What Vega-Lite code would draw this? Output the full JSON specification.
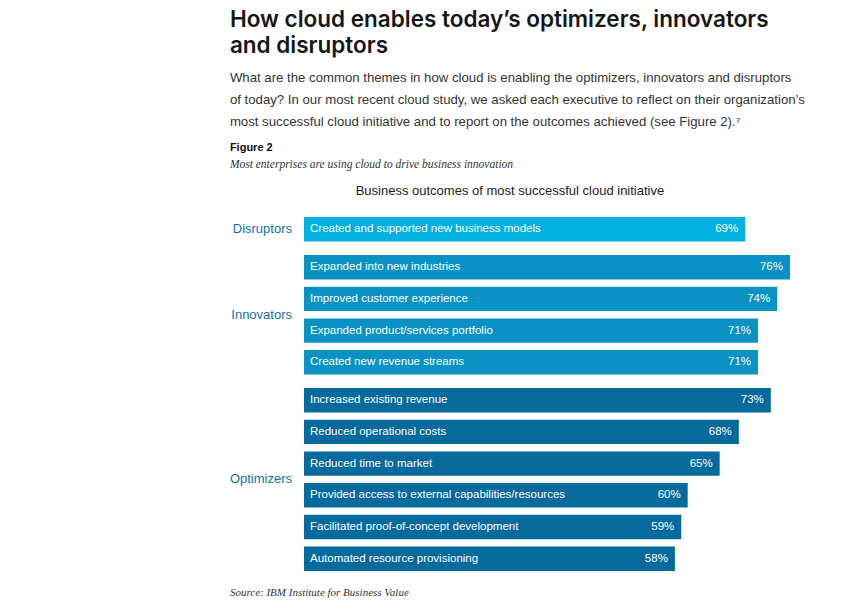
{
  "$schema": "https://vega.github.io/schema/vega-lite/v6.json",
  "padding": {"left": 229, "top": 8, "right": 5, "bottom": 5},
  "background": "white",
  "title": {
    "text": ["How cloud enables today’s optimizers, innovators", "and disruptors"],
    "anchor": "start",
    "font": "Inter",
    "fontSize": 22.5,
    "fontWeight": 600,
    "color": "#161616",
    "lineHeight": 26,
    "subtitle": [
      "What are the common themes in how cloud is enabling the optimizers, innovators and disruptors",
      "of today? In our most recent cloud study, we asked each executive to reflect on their organization’s",
      "most successful cloud initiative and to report on the outcomes achieved (see Figure 2).⁷"
    ],
    "subtitleFont": "Liberation Sans",
    "subtitleFontSize": 13.2,
    "subtitleColor": "#333333",
    "subtitleLineHeight": 22,
    "subtitlePadding": 15,
    "offset": 13
  },
  "vconcat": [
    {
      "title": {
        "text": "Figure 2",
        "anchor": "start",
        "font": "Liberation Sans",
        "fontSize": 11,
        "fontWeight": "bold",
        "color": "#111111",
        "subtitle": "Most enterprises are using cloud to drive business innovation",
        "subtitleFont": "Liberation Serif",
        "subtitleFontStyle": "italic",
        "subtitleFontSize": 11.5,
        "subtitleColor": "#333333",
        "subtitlePadding": 6,
        "offset": 15
      },
      "vconcat": [
        {
          "title": {
            "text": "Source: IBM Institute for Business Value",
            "orient": "bottom",
            "anchor": "start",
            "font": "Liberation Serif",
            "fontStyle": "italic",
            "fontSize": 11,
            "fontWeight": "normal",
            "color": "#333333",
            "offset": 16
          },
          "vconcat": [
            {
              "title": {
                "text": "Business outcomes of most successful cloud initiative",
                "anchor": "middle",
                "font": "Liberation Sans",
                "fontSize": 13,
                "fontWeight": "normal",
                "color": "#222222",
                "offset": 19
              },
              "data": {
                "values": [
                  {"group": "Disruptors", "outcome": "Created and supported new business models", "value": 0.69, "order": 1},
                  {"group": "Innovators", "outcome": "Expanded into new industries", "value": 0.76, "order": 1},
                  {"group": "Innovators", "outcome": "Improved customer experience", "value": 0.74, "order": 2},
                  {"group": "Innovators", "outcome": "Expanded product/services portfolio", "value": 0.71, "order": 3},
                  {"group": "Innovators", "outcome": "Created new revenue streams", "value": 0.71, "order": 4},
                  {"group": "Optimizers", "outcome": "Increased existing revenue", "value": 0.73, "order": 1},
                  {"group": "Optimizers", "outcome": "Reduced operational costs", "value": 0.68, "order": 2},
                  {"group": "Optimizers", "outcome": "Reduced time to market", "value": 0.65, "order": 3},
                  {"group": "Optimizers", "outcome": "Provided access to external capabilities/resources", "value": 0.60, "order": 4},
                  {"group": "Optimizers", "outcome": "Facilitated proof-of-concept development", "value": 0.59, "order": 5},
                  {"group": "Optimizers", "outcome": "Automated resource provisioning", "value": 0.58, "order": 6}
                ]
              },
              "facet": {
                "row": {
                  "field": "group",
                  "type": "nominal",
                  "sort": ["Disruptors", "Innovators", "Optimizers"],
                  "header": {
                    "title": null,
                    "labelAngle": 0,
                    "labelOrient": "left",
                    "labelAlign": "left",
                    "labelBaseline": "middle",
                    "labelFont": "Liberation Sans",
                    "labelFontSize": 13,
                    "labelColor": {"expr": "datum.value === 'Disruptors' ? '#1c9ad2' : datum.value === 'Innovators' ? '#1088bc' : '#176ea6'"},
                    "labelPadding": 12
                  }
                }
              },
              "spacing": 13,
              "resolve": {"scale": {"y": "independent"}},
              "spec": {
                "width": 486,
                "height": {"step": 31.7},
                "encoding": {
                  "y": {
                    "field": "outcome",
                    "type": "nominal",
                    "sort": {"field": "order", "op": "min"},
                    "axis": null,
                    "scale": {"paddingInner": 0.23, "paddingOuter": 0}
                  }
                },
                "layer": [
                  {
                    "mark": {"type": "bar"},
                    "encoding": {
                      "x": {"field": "value", "type": "quantitative", "axis": null, "scale": {"domain": [0, 0.76], "nice": false}},
                      "color": {
                        "field": "group",
                        "type": "nominal",
                        "legend": null,
                        "scale": {"domain": ["Disruptors", "Innovators", "Optimizers"], "range": ["#02b0e0", "#0a92c4", "#076a9d"]}
                      }
                    }
                  },
                  {
                    "mark": {"type": "text", "align": "left", "baseline": "middle", "dx": 6, "font": "Liberation Sans", "fontSize": 11.5, "color": "#ffffff"},
                    "encoding": {
                      "x": {"datum": 0, "type": "quantitative"},
                      "text": {"field": "outcome"}
                    }
                  },
                  {
                    "mark": {"type": "text", "align": "right", "baseline": "middle", "dx": -7, "font": "Liberation Sans", "fontSize": 11.5, "color": "#ffffff"},
                    "encoding": {
                      "x": {"field": "value", "type": "quantitative"},
                      "text": {"field": "value", "type": "quantitative", "format": ".0%"}
                    }
                  }
                ]
              }
            }
          ]
        }
      ]
    }
  ],
  "config": {
    "view": {"stroke": null},
    "concat": {"spacing": 0}
  }
}
